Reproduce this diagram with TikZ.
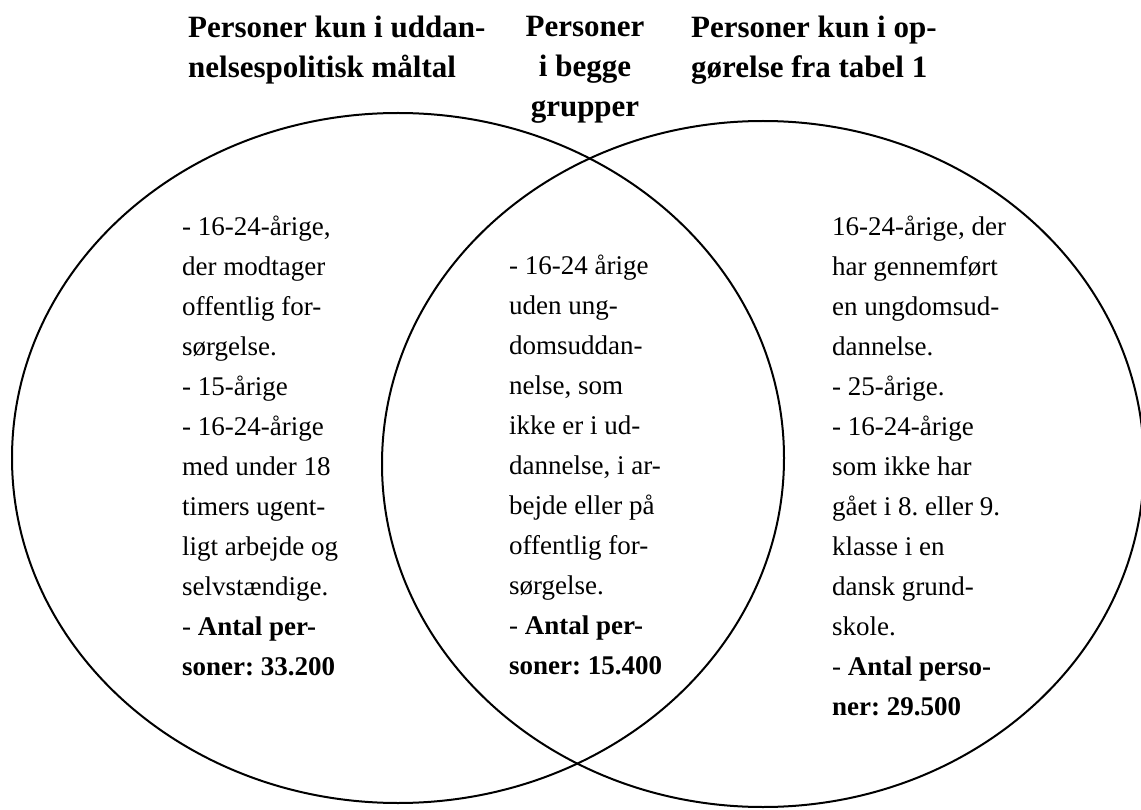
\documentclass[tikz,border=0pt]{standalone}
\usepackage{fontspec}
\setmainfont{Liberation Serif}
\frenchspacing

\begin{document}
\begin{tikzpicture}[x=1pt, y=1pt,
  ring/.style={line width=2pt},
  head/.style={font=\bfseries\fontsize{31}{40}\selectfont, inner sep=0pt, align=left, anchor=north west},
  body/.style={font=\fontsize{27}{40}\selectfont, inner sep=0pt, align=left, anchor=north west}]
  \useasboundingbox (0,0) rectangle (1141,-810);
  \clip (0,0) rectangle (1141,-810);
  % the two groups
  \draw[ring] (398,-458) ellipse[x radius=386, y radius=345];
  \draw[ring] (763,-464) ellipse[x radius=381, y radius=343];
  % headings
  \node[head] (leftHead) at (188,-16) {Personer kun i uddan-\\nelsespolitisk måltal};
  \node[head, anchor=north, align=center] (bothHead) at (585,-16) {Personer\\i begge\\grupper};
  \node[head] (rightHead) at (691,-16) {Personer kun i op-\\gørelse fra tabel 1};
  % contents of each region
  \node[body] (leftText) at (182,-216) {- 16-24-årige,\\der modtager\\offentlig for-\\sørgelse.\\- 15-årige\\- 16-24-årige\\med under 18\\timers ugent-\\ligt arbejde og\\selvstændige.\\- \textbf{Antal per-}\\\textbf{soner: 33.200}};
  \node[body] (bothText) at (509,-255) {- 16-24 årige\\uden ung-\\domsuddan-\\nelse, som\\ikke er i ud-\\dannelse, i ar-\\bejde eller på\\offentlig for-\\sørgelse.\\- \textbf{Antal per-}\\\textbf{soner: 15.400}};
  \node[body] (rightText) at (832,-216) {16-24-årige, der\\har gennemført\\en ungdomsud-\\dannelse.\\- 25-årige.\\- 16-24-årige\\som ikke har\\gået i 8. eller 9.\\klasse i en\\dansk grund-\\skole.\\- \textbf{Antal perso-}\\\textbf{ner: 29.500}};
\end{tikzpicture}
\end{document}
